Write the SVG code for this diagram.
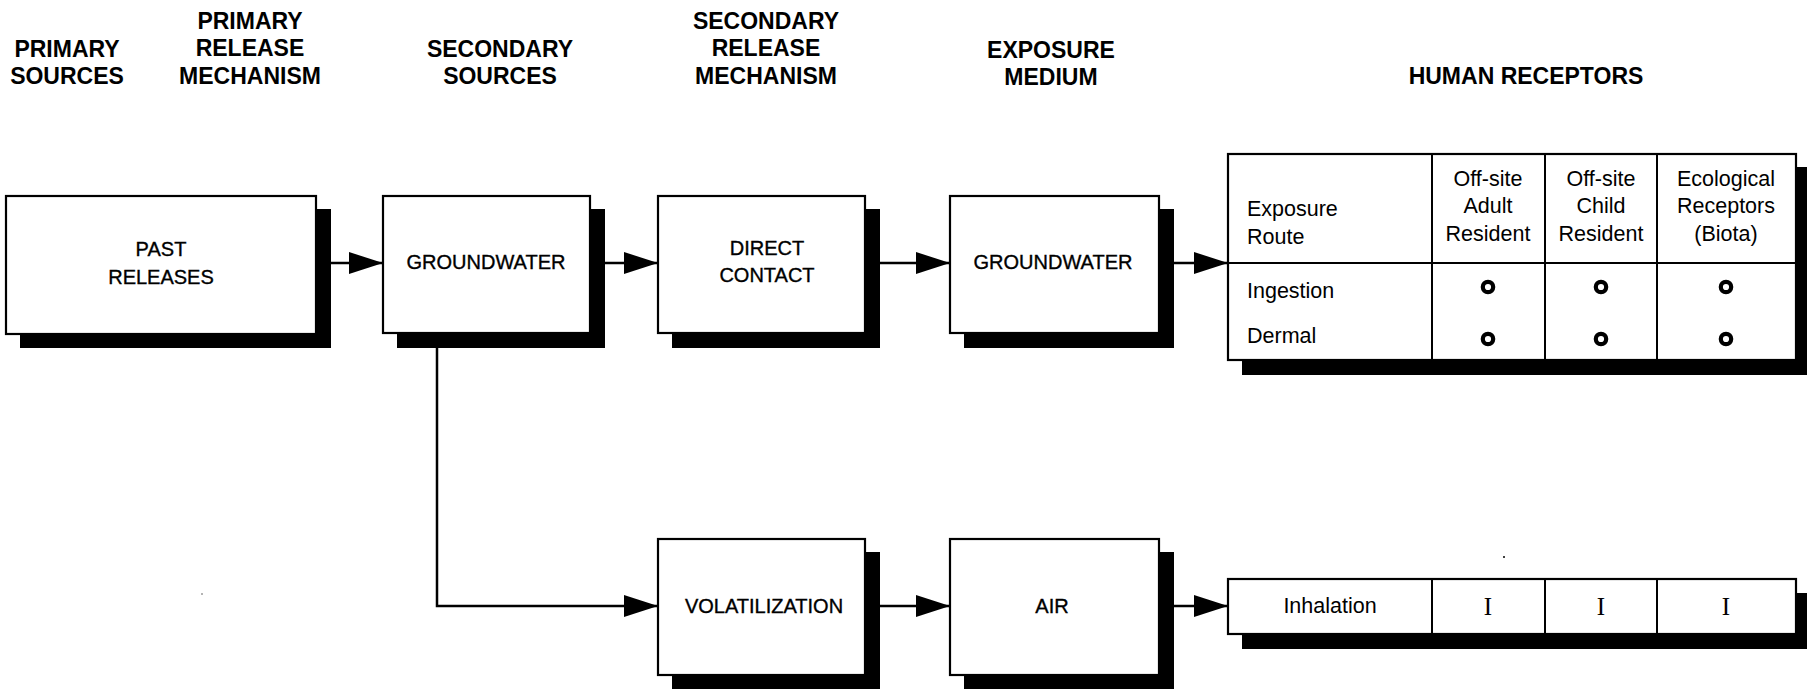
<svg xmlns="http://www.w3.org/2000/svg" width="1807" height="689" viewBox="0 0 1807 689">
<defs>
<style>
.bg{fill:#fff}
.box{fill:#fff;stroke:#000;stroke-width:2.2}
.sh{fill:#000}
.hd{font-family:"Liberation Sans",Arial,sans-serif;font-weight:bold;font-size:23px;fill:#000;text-anchor:middle}
.bx{font-family:"Liberation Sans",Arial,sans-serif;font-size:20px;fill:#000;stroke:#000;stroke-width:0.35;text-anchor:middle}
.tt{font-family:"Liberation Sans",Arial,sans-serif;font-size:21.5px;fill:#000}
.tc{text-anchor:middle}
.sr{font-family:"Liberation Serif","Times New Roman",serif;font-size:25px;fill:#000;text-anchor:middle}
.ln{fill:none;stroke:#000;stroke-width:2.5}
.grid{fill:none;stroke:#000;stroke-width:2}
.ring{fill:none;stroke:#000;stroke-width:4.2}
</style>
<marker id="ah" markerUnits="userSpaceOnUse" markerWidth="36" markerHeight="22" refX="34" refY="11" orient="auto">
<path d="M0,0 L34,11 L0,22 Z" fill="#000"/>
</marker>
</defs>
<rect class="bg" x="0" y="0" width="1807" height="689"/>

<g id="headers">
<text class="hd" x="67" y="57">PRIMARY</text>
<text class="hd" x="67" y="84">SOURCES</text>
<text class="hd" x="250" y="29">PRIMARY</text>
<text class="hd" x="250" y="56">RELEASE</text>
<text class="hd" x="250" y="84">MECHANISM</text>
<text class="hd" x="500" y="57">SECONDARY</text>
<text class="hd" x="500" y="84">SOURCES</text>
<text class="hd" x="766" y="29">SECONDARY</text>
<text class="hd" x="766" y="56">RELEASE</text>
<text class="hd" x="766" y="84">MECHANISM</text>
<text class="hd" x="1051" y="58">EXPOSURE</text>
<text class="hd" x="1051" y="85">MEDIUM</text>
<text class="hd" x="1526" y="84">HUMAN RECEPTORS</text>
</g>

<g id="connectors">
<path class="ln" d="M331,263 H383" marker-end="url(#ah)"/>
<path class="ln" d="M605,263 H658" marker-end="url(#ah)"/>
<path class="ln" d="M880,263 H950" marker-end="url(#ah)"/>
<path class="ln" d="M1174,263 H1228" marker-end="url(#ah)"/>
<path class="ln" d="M437,348 V606 H658" marker-end="url(#ah)"/>
<path class="ln" d="M880,606 H950" marker-end="url(#ah)"/>
<path class="ln" d="M1174,606 H1228" marker-end="url(#ah)"/>
</g>

<g id="past-releases">
<rect class="sh" x="20" y="209" width="311" height="139"/>
<rect class="box" x="6" y="196" width="310" height="138"/>
<text class="bx" x="161" y="256">PAST</text>
<text class="bx" x="161" y="284">RELEASES</text>
</g>

<g id="groundwater-source">
<rect class="sh" x="397" y="209" width="208" height="139"/>
<rect class="box" x="383" y="196" width="207" height="137"/>
<text class="bx" x="486" y="269">GROUNDWATER</text>
</g>

<g id="direct-contact">
<rect class="sh" x="672" y="209" width="208" height="139"/>
<rect class="box" x="658" y="196" width="207" height="137"/>
<text class="bx" x="767" y="255">DIRECT</text>
<text class="bx" x="767" y="282">CONTACT</text>
</g>

<g id="groundwater-medium">
<rect class="sh" x="964" y="209" width="210" height="139"/>
<rect class="box" x="950" y="196" width="209" height="137"/>
<text class="bx" x="1053" y="269">GROUNDWATER</text>
</g>

<g id="volatilization">
<rect class="sh" x="672" y="552" width="208" height="139"/>
<rect class="box" x="658" y="539" width="207" height="136"/>
<text class="bx" x="764" y="613">VOLATILIZATION</text>
</g>

<g id="air">
<rect class="sh" x="964" y="552" width="210" height="139"/>
<rect class="box" x="950" y="539" width="209" height="136"/>
<text class="bx" x="1052" y="613">AIR</text>
</g>

<g id="receptor-table">
<rect class="sh" x="1242" y="167" width="570" height="208"/>
<rect class="box" x="1228" y="154" width="568" height="206"/>
<path class="grid" d="M1228,263 H1796 M1432,154 V360 M1545,154 V360 M1657,154 V360"/>
<text class="tt" x="1247" y="216">Exposure</text>
<text class="tt" x="1247" y="244">Route</text>
<text class="tt tc" x="1488" y="186">Off-site</text>
<text class="tt tc" x="1488" y="213">Adult</text>
<text class="tt tc" x="1488" y="241">Resident</text>
<text class="tt tc" x="1601" y="186">Off-site</text>
<text class="tt tc" x="1601" y="213">Child</text>
<text class="tt tc" x="1601" y="241">Resident</text>
<text class="tt tc" x="1726" y="186">Ecological</text>
<text class="tt tc" x="1726" y="213">Receptors</text>
<text class="tt tc" x="1726" y="241">(Biota)</text>
<text class="tt" x="1247" y="298">Ingestion</text>
<text class="tt" x="1247" y="343">Dermal</text>
<circle class="ring" cx="1488" cy="287" r="5.2"/>
<circle class="ring" cx="1601" cy="287" r="5.2"/>
<circle class="ring" cx="1726" cy="287" r="5.2"/>
<circle class="ring" cx="1488" cy="339" r="5.2"/>
<circle class="ring" cx="1601" cy="339" r="5.2"/>
<circle class="ring" cx="1726" cy="339" r="5.2"/>
</g>

<g id="inhalation-row">
<rect class="sh" x="1242" y="593" width="570" height="56"/>
<rect class="box" x="1228" y="579" width="568" height="55"/>
<path class="grid" d="M1432,579 V634 M1545,579 V634 M1657,579 V634"/>
<text class="tt tc" x="1330" y="613">Inhalation</text>
<text class="sr" x="1488" y="615">I</text>
<text class="sr" x="1601" y="615">I</text>
<text class="sr" x="1726" y="615">I</text>
</g>

<g id="specks">
<circle cx="1504" cy="557" r="1" fill="#000"/>
<circle cx="202" cy="594" r="0.8" fill="#555"/>
</g>
</svg>
